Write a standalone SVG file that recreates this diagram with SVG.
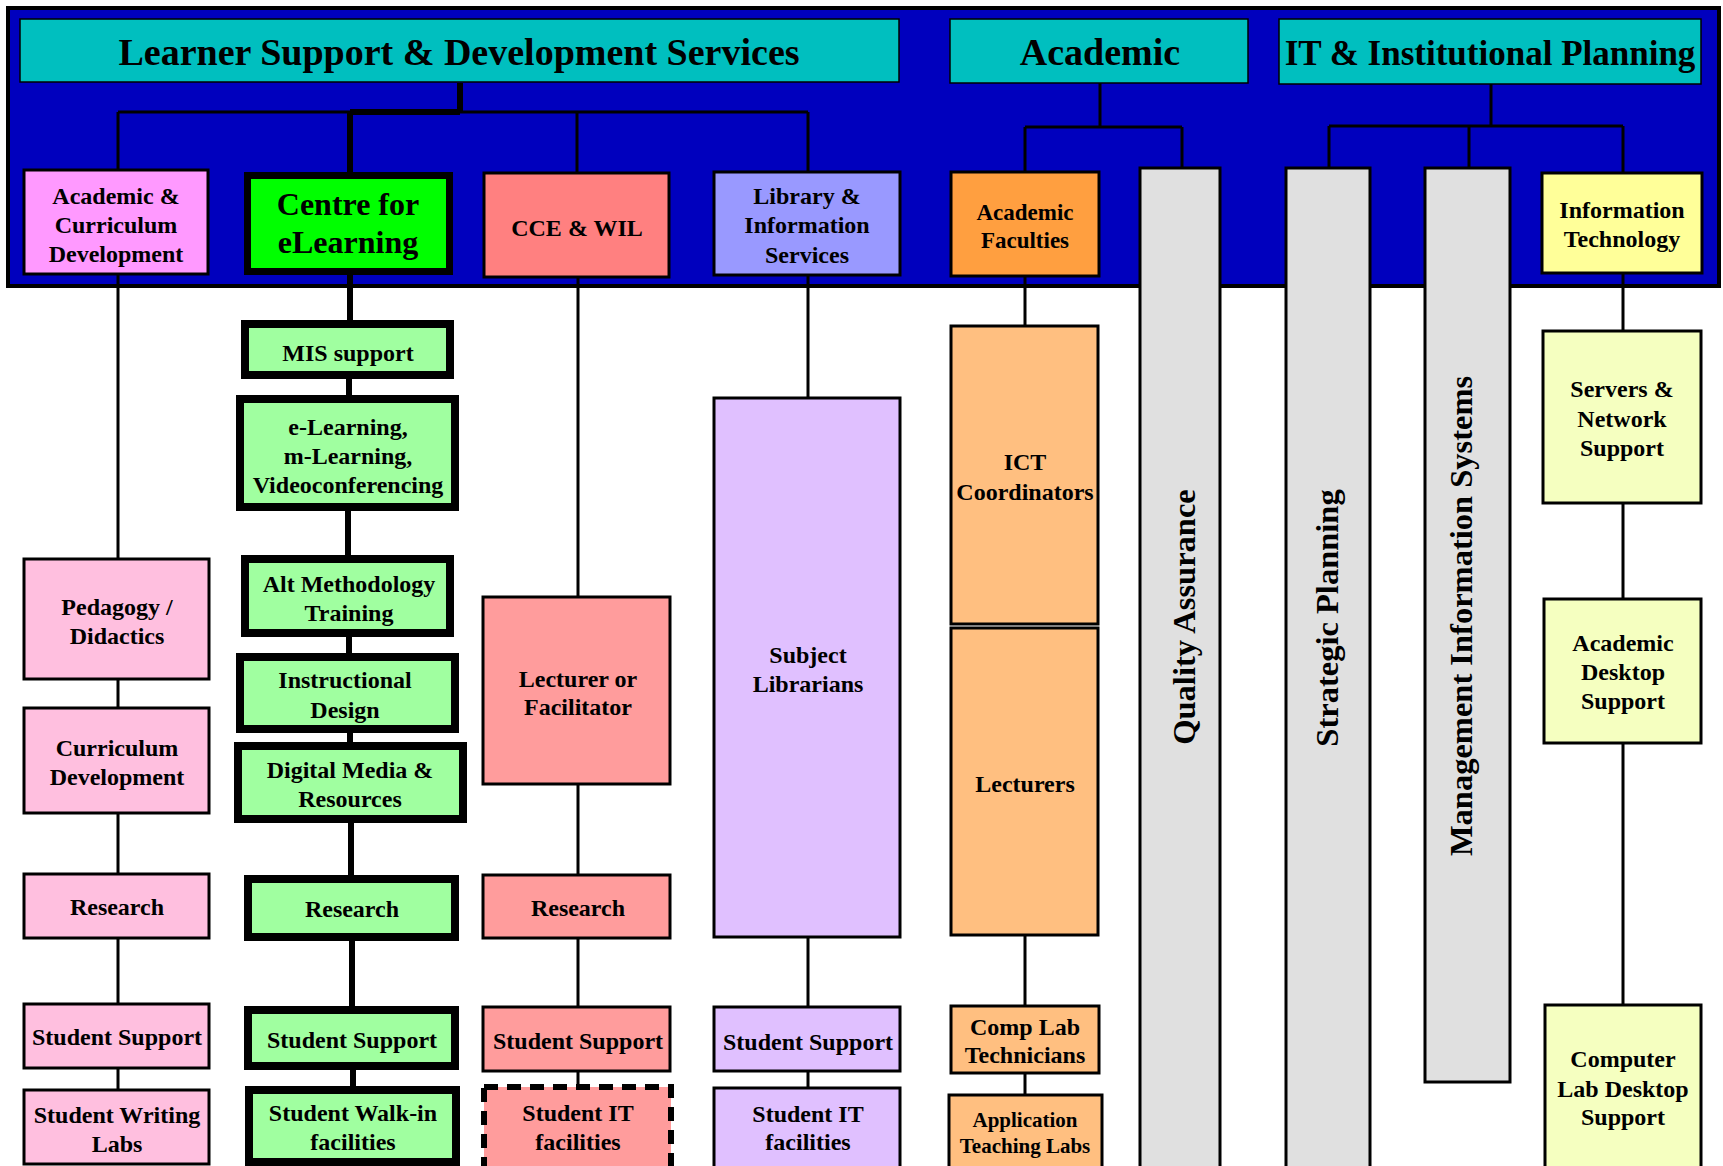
<svg xmlns="http://www.w3.org/2000/svg" width="1723" height="1166" viewBox="0 0 1723 1166">
<style>
text{font-family:"Liberation Serif","Times New Roman",serif;font-weight:bold;font-size:24px;text-anchor:middle;fill:#000}
.title{font-size:38px}
.vert{font-size:32.5px}
.box{stroke:#000;stroke-width:3}
.tbox{stroke:#000;stroke-width:1.5;fill:#00BFBF}
.thick{stroke:#000;stroke-width:8;fill:#A0FFA0}
.gray{fill:#E0E0E0;stroke:#000;stroke-width:3}
.pink{fill:#FFBFDF}
.salmon{fill:#FF9C9C}
.lilac{fill:#E0C0FF}
.peach{fill:#FFBF80}
.lime{fill:#F5FFC0}
.c{stroke:#000;stroke-width:3;fill:none}
.ct{stroke:#000;stroke-width:6;fill:none}
</style>
<rect x="0" y="0" width="1723" height="1166" fill="#FFFFFF"/>
<rect id="panel" x="8" y="8" width="1711" height="278" fill="#0000BE" stroke="#000" stroke-width="4"/>

<g id="connectors">
  <path class="ct" d="M460 83V112"/>
  <path class="c" d="M118 112H808"/>
  <path class="ct" d="M350 112H460"/>
  <path class="c" d="M118 112V170M577 112V173M808 112V172"/>
  <path class="ct" d="M350 112V172"/>
  <path class="c" d="M1100 83V127M1025 127H1182M1025 127V172M1182 127V168"/>
  <path class="c" d="M1491 84V126M1329 126H1623M1329 126V168M1469 126V168M1623 126V173"/>
  <path class="c" d="M118 274V559M118 679V708M118 813V874M118 938V1004M118 1068V1090"/>
  <path class="ct" d="M350 275V320M349 379V395M348 511V555M349 637V653M350 733V742M351 823V875M352 941V1006M353 1070V1086"/>
  <path class="c" d="M578 277V597M578 784V875M578 938V1007M578 1071V1087"/>
  <path class="c" d="M808 275V398M808 937V1007M808 1071V1088"/>
  <path class="c" d="M1025 276V326M1025 935V1006M1025 1073V1095"/>
  <path class="c" d="M1623 273V331M1623 503V599M1623 743V1005"/>
</g>

<g id="lsds">
  <rect class="tbox" x="20" y="19" width="879" height="63"/>
  <text class="title" x="459" y="65">Learner Support &amp; Development Services</text>
</g>
<g id="academic">
  <rect class="tbox" x="950" y="19" width="298" height="64"/>
  <text class="title" x="1100" y="65">Academic</text>
</g>
<g id="itip">
  <rect class="tbox" x="1279" y="19" width="422" height="65"/>
  <text class="title" x="1490" y="65" style="font-size:35px">IT &amp; Institutional Planning</text>
</g>

<g id="acd">
  <rect class="box" x="24" y="170" width="184" height="104" fill="#FF99FF"/>
  <text x="116" y="204">Academic &amp;</text>
  <text x="116" y="233">Curriculum</text>
  <text x="116" y="262">Development</text>
</g>
<g id="cel">
  <rect x="247.5" y="175.5" width="202" height="96" fill="#00FF00" stroke="#000" stroke-width="7"/>
  <text x="348" y="215" style="font-size:32px">Centre for</text>
  <text x="348" y="253" style="font-size:32px">eLearning</text>
</g>
<g id="cce">
  <rect class="box" x="484" y="173" width="185" height="104" fill="#FF8080"/>
  <text x="577" y="236">CCE &amp; WIL</text>
</g>
<g id="lib">
  <rect class="box" x="714" y="172" width="186" height="103" fill="#9999FF"/>
  <text x="807" y="204">Library &amp;</text>
  <text x="807" y="233">Information</text>
  <text x="807" y="263">Services</text>
</g>
<g id="af">
  <rect class="box" x="951" y="172" width="148" height="104" fill="#FF9F40"/>
  <text x="1025" y="220" style="font-size:23px">Academic</text>
  <text x="1025" y="248" style="font-size:23px">Faculties</text>
</g>
<g id="qa">
  <rect class="gray" x="1140" y="168" width="80" height="1010"/>
  <text class="vert" transform="translate(1195 617) rotate(-90)">Quality Assurance</text>
</g>
<g id="sp">
  <rect class="gray" x="1286" y="168" width="84" height="1010"/>
  <text class="vert" transform="translate(1338 618) rotate(-90)">Strategic Planning</text>
</g>
<g id="mis">
  <rect class="gray" x="1425" y="168" width="85" height="914"/>
  <text class="vert" transform="translate(1472 616) rotate(-90)">Management Information Systems</text>
</g>
<g id="it">
  <rect class="box" x="1542" y="173" width="160" height="100" fill="#FFFF99"/>
  <text x="1622" y="218">Information</text>
  <text x="1622" y="247">Technology</text>
</g>

<g id="ped">
  <rect class="box pink" x="24" y="559" width="185" height="120"/>
  <text x="117" y="615">Pedagogy /</text>
  <text x="117" y="644">Didactics</text>
</g>
<g id="curdev">
  <rect class="box pink" x="24" y="708" width="185" height="105"/>
  <text x="117" y="756">Curriculum</text>
  <text x="117" y="785">Development</text>
</g>
<g id="res1">
  <rect class="box pink" x="24" y="874" width="185" height="64"/>
  <text x="117" y="915">Research</text>
</g>
<g id="ss1">
  <rect class="box pink" x="24" y="1004" width="185" height="64"/>
  <text x="117" y="1045">Student Support</text>
</g>
<g id="swl">
  <rect class="box pink" x="24" y="1090" width="185" height="74"/>
  <text x="117" y="1123">Student Writing</text>
  <text x="117" y="1152">Labs</text>
</g>

<g id="missup">
  <rect class="thick" x="245" y="324" width="205" height="51"/>
  <text x="348" y="361">MIS support</text>
</g>
<g id="elearn">
  <rect class="thick" x="240" y="399" width="215" height="108"/>
  <text x="348" y="435">e-Learning,</text>
  <text x="348" y="464">m-Learning,</text>
  <text x="348" y="493">Videoconferencing</text>
</g>
<g id="alt">
  <rect class="thick" x="245" y="559" width="205" height="74"/>
  <text x="349" y="592">Alt Methodology</text>
  <text x="349" y="621">Training</text>
</g>
<g id="instr">
  <rect class="thick" x="240" y="657" width="215" height="72"/>
  <text x="345" y="688">Instructional</text>
  <text x="345" y="718">Design</text>
</g>
<g id="digital">
  <rect class="thick" x="238" y="746" width="225" height="73"/>
  <text x="350" y="778">Digital Media &amp;</text>
  <text x="350" y="807">Resources</text>
</g>
<g id="res2">
  <rect class="thick" x="248" y="879" width="207" height="58"/>
  <text x="352" y="917">Research</text>
</g>
<g id="ss2">
  <rect class="thick" x="248" y="1010" width="207" height="56"/>
  <text x="352" y="1048">Student Support</text>
</g>
<g id="walkin">
  <rect class="thick" x="249" y="1090" width="207" height="72"/>
  <text x="353" y="1121">Student Walk-in</text>
  <text x="353" y="1150">facilities</text>
</g>

<g id="lecfac">
  <rect class="box salmon" x="483" y="597" width="187" height="187"/>
  <text x="578" y="687">Lecturer or</text>
  <text x="578" y="715">Facilitator</text>
</g>
<g id="res3">
  <rect class="box salmon" x="483" y="875" width="187" height="63"/>
  <text x="578" y="916">Research</text>
</g>
<g id="ss3">
  <rect class="box salmon" x="483" y="1007" width="187" height="64"/>
  <text x="578" y="1049">Student Support</text>
</g>
<g id="sit1">
  <rect class="salmon" x="484" y="1087" width="187" height="85" stroke="#000" stroke-width="6" stroke-dasharray="14 9"/>
  <text x="578" y="1121">Student IT</text>
  <text x="578" y="1150">facilities</text>
</g>

<g id="subjlib">
  <rect class="box lilac" x="714" y="398" width="186" height="539"/>
  <text x="808" y="663">Subject</text>
  <text x="808" y="692">Librarians</text>
</g>
<g id="ss4">
  <rect class="box lilac" x="714" y="1007" width="186" height="64"/>
  <text x="808" y="1050">Student Support</text>
</g>
<g id="sit2">
  <rect class="box lilac" x="714" y="1088" width="186" height="80"/>
  <text x="808" y="1122">Student IT</text>
  <text x="808" y="1150">facilities</text>
</g>

<g id="ict">
  <rect class="box peach" x="951" y="326" width="147" height="298"/>
  <text x="1025" y="470">ICT</text>
  <text x="1025" y="500">Coordinators</text>
</g>
<g id="lect">
  <rect class="box peach" x="951" y="628" width="147" height="307"/>
  <text x="1025" y="792">Lecturers</text>
</g>
<g id="clt">
  <rect class="box peach" x="951" y="1006" width="148" height="67"/>
  <text x="1025" y="1035">Comp Lab</text>
  <text x="1025" y="1063">Technicians</text>
</g>
<g id="atl">
  <rect class="box peach" x="949" y="1095" width="153" height="75"/>
  <text x="1025" y="1127" style="font-size:21px">Application</text>
  <text x="1025" y="1153" style="font-size:21px">Teaching Labs</text>
</g>

<g id="sns">
  <rect class="box lime" x="1543" y="331" width="158" height="172"/>
  <text x="1622" y="397">Servers &amp;</text>
  <text x="1622" y="427">Network</text>
  <text x="1622" y="456">Support</text>
</g>
<g id="ads">
  <rect class="box lime" x="1544" y="599" width="157" height="144"/>
  <text x="1623" y="651">Academic</text>
  <text x="1623" y="680">Desktop</text>
  <text x="1623" y="709">Support</text>
</g>
<g id="clds">
  <rect class="box lime" x="1545" y="1005" width="156" height="165"/>
  <text x="1623" y="1067">Computer</text>
  <text x="1623" y="1097">Lab Desktop</text>
  <text x="1623" y="1125">Support</text>
</g>
</svg>
